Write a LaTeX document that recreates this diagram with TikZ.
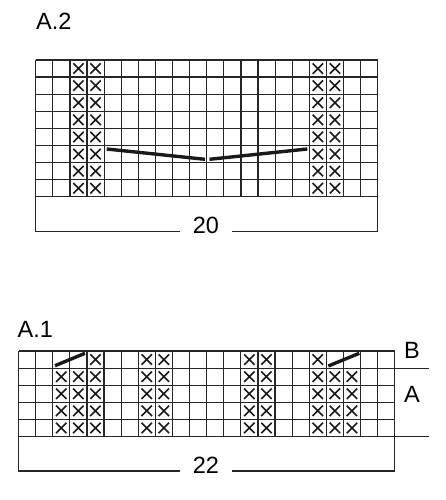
\documentclass[tikz,border=0pt]{standalone}
\usepackage{fontspec}
\setmainfont{Liberation Sans}
\begin{document}
\begin{tikzpicture}[x=1pt, y=-1pt, font=\fontsize{23.5}{28}\selectfont,
    gridline/.style={draw=black!85, line width=1.2pt},
    cross/.style={draw=black!90, line width=1.6pt},
    slip/.style={draw=black!90, line width=3.4pt},
    label/.style={inner sep=0pt, anchor=base west},
    count/.style={inner ysep=0pt, inner xsep=13pt, anchor=base}]

        \useasboundingbox (0, 0) rectangle (446, 500);
        \def\s{17.1}
        \def\h{5.2}

        % chart A.2
        \node[label] (nameAtwo) at (36, 30) {A.2};

        \foreach \i in {0,...,20} {
            \draw[gridline] (35.7 + \i*\s, 60) -- (35.7 + \i*\s, 196.8);
        }
        \foreach \j in {0,...,8} {
            \draw[gridline] (35.7, 60 + \j*\s) -- (377.7, 60 + \j*\s);
        }

        \foreach \c in {2, 3, 16, 17} {
            \foreach \r in {0,...,7} {
                \draw[cross] (35.7 + \c*\s + 0.5*\s, 60 + \r*\s + 0.5*\s) +(-\h, -\h) -- +(\h, \h) +(-\h, \h) -- +(\h, -\h);
            }
        }

        \draw[slip] (106.7, 149) -- (205, 159.3);
        \draw[slip] (209.5, 159.3) -- (307.3, 149);

        \coordinate (baseAtwo) at (35.7, 231.7);
        \node[count] (widthAtwo) at (206, 233) {20};
        \draw[gridline] (35.7, 196.8) -- (baseAtwo) -- (widthAtwo.west |- baseAtwo);
        \draw[gridline] (widthAtwo.east |- baseAtwo) -- (377.7, 231.7) -- (377.7, 196.8);

        % chart A.1
        \node[label] (nameAone) at (17.5, 337) {A.1};

        \foreach \i in {0,...,22} {
            \draw[gridline] (18.5 + \i*\s, 351) -- (18.5 + \i*\s, 436.5);
        }
        \foreach \j in {0,...,5} {
            \draw[gridline] (18.5, 351 + \j*\s) -- (394.7, 351 + \j*\s);
        }
        \draw[gridline] (394.7, 368.1) -- (429.3, 368.1);
        \draw[gridline] (394.7, 436.5) -- (429.3, 436.5);

        \foreach \c/\r in {4/0, 7/0, 8/0, 13/0, 14/0, 17/0} {
            \draw[cross] (18.5 + \c*\s + 0.5*\s, 351 + \r*\s + 0.5*\s) +(-\h, -\h) -- +(\h, \h) +(-\h, \h) -- +(\h, -\h);
        }
        \foreach \c in {2, 3, 4, 7, 8, 13, 14, 17, 18, 19} {
            \foreach \r in {1,...,4} {
                \draw[cross] (18.5 + \c*\s + 0.5*\s, 351 + \r*\s + 0.5*\s) +(-\h, -\h) -- +(\h, \h) +(-\h, \h) -- +(\h, -\h);
            }
        }

        \draw[slip] (55, 365.7) -- (85, 353.3);
        \draw[slip] (328.3, 366) -- (359.3, 353.3);

        \node[anchor=base] (partB) at (412, 358) {B};
        \node[anchor=base] (partA) at (412, 402) {A};

        \coordinate (baseAone) at (18.5, 471);
        \node[count] (widthAone) at (206, 473.5) {22};
        \draw[gridline] (18.5, 436.5) -- (baseAone) -- (widthAone.west |- baseAone);
        \draw[gridline] (widthAone.east |- baseAone) -- (394.7, 471) -- (394.7, 436.5);

\end{tikzpicture}
\end{document}
